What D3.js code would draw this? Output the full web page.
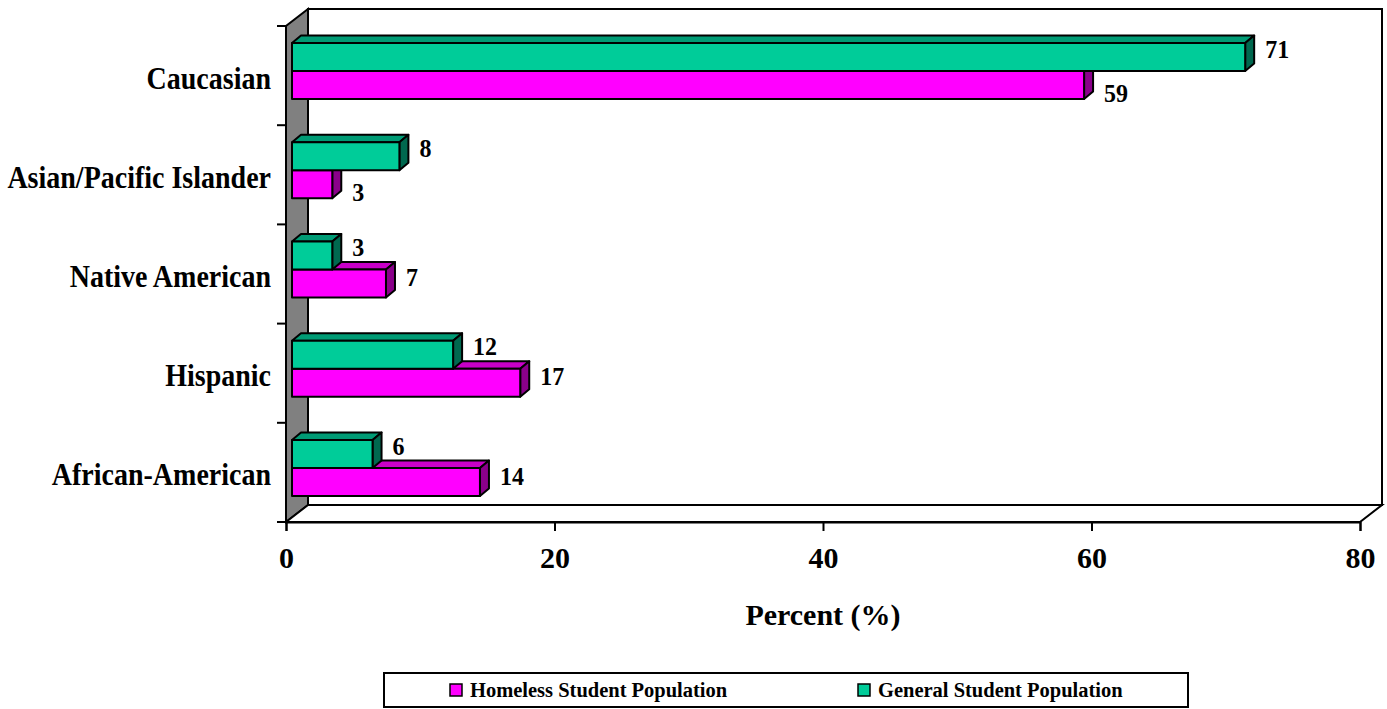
<!DOCTYPE html>
<html>
<head>
<meta charset="utf-8">
<script src="https://cdn.jsdelivr.net/npm/d3@7"></script>
<style>
  html, body { margin: 0; padding: 0; background: #fff; }
  svg { display: block; }
  text { font-family: "Liberation Serif", "Times New Roman", serif; font-weight: bold; fill: #000; }
</style>
</head>
<body>
<svg id="chart" width="1387" height="709"></svg>
<script>
// Ethnic breakdown, percent of each population
const categories = ["Caucasian", "Asian/Pacific Islander", "Native American", "Hispanic", "African-American"];
const seriesNames = ["Homeless Student Population", "General Student Population"];
const homeless = [59, 3, 7, 17, 14];
const general = [71, 8, 3, 12, 6];
const xTicks = [0, 20, 40, 60, 80];

const colors = {
  homeless: { front: "#FF00FF", top: "#C800C8", side: "#8A008A" },
  general:  { front: "#00CC99", top: "#009B75", side: "#00684F" }
};

const svg = d3.select("#chart");

// front plane of the 3-D box and its depth offset
const x = d3.scaleLinear().domain([0, 80]).range([286, 1360]);
const y = d3.scaleBand().domain(categories).range([26, 522]);
const depth = { dx: 22, dy: -17 };
const barShift = { dx: 6, dy: -4.5 };   // bars sit a little inside the box
const barDepth = { dx: 9, dy: -7.5 };
const barH = 28;

const x0 = x.range()[0], x1 = x.range()[1];
const yTop = y.range()[0], yBot = y.range()[1];

const frame = svg.append("g").attr("stroke", "#000").attr("stroke-width", 2).attr("fill", "none");

// back wall
frame.append("rect")
  .attr("x", x0 + depth.dx).attr("y", yTop + depth.dy)
  .attr("width", x1 - x0).attr("height", yBot - yTop)
  .attr("fill", "#fff");

// left side wall (grey)
frame.append("polygon")
  .attr("points", [
    [x0, yTop], [x0, yBot], [x0 + depth.dx, yBot + depth.dy], [x0 + depth.dx, yTop + depth.dy]
  ].map(p => p.join(",")).join(" "))
  .attr("fill", "#808080");

// floor
frame.append("polygon")
  .attr("points", [
    [x0, yBot], [x1, yBot], [x1 + depth.dx, yBot + depth.dy], [x0 + depth.dx, yBot + depth.dy]
  ].map(p => p.join(",")).join(" "))
  .attr("fill", "#fff");

// category tick marks at band boundaries
const bounds = categories.map(c => y(c)).concat([yBot]);
frame.selectAll("line.ytick").data(bounds).enter().append("line")
  .attr("x1", x0 - 9).attr("x2", x0).attr("y1", d => d).attr("y2", d => d);

// value axis along the front edge of the floor
const xAxis = d3.axisBottom(x).tickValues(xTicks).tickSize(9).tickPadding(16).tickFormat(d3.format("d"));
const gx = svg.append("g").attr("transform", `translate(0,${yBot})`).call(xAxis);
gx.select(".domain").attr("stroke", "#000").attr("stroke-width", 2);
gx.selectAll(".tick line").attr("stroke", "#000").attr("stroke-width", 2);
gx.selectAll(".tick text").attr("font-size", 30).attr("font-family", "'Liberation Serif', 'Times New Roman', serif").attr("font-weight", "bold").attr("fill", "#000");

// category labels (slightly tall lettering)
svg.selectAll("text.cat").data(categories).enter().append("text")
  .attr("class", "cat")
  .attr("transform", d => `translate(271,${y(d) + y.bandwidth() / 2 + 2.5}) scale(1,1.12)`)
  .attr("dominant-baseline", "central")
  .attr("text-anchor", "end")
  .attr("font-size", 28)
  .text(d => d);

// bars: general on top, homeless below; draw homeless first so general's faces overlap it
const rows = categories.map((c, i) => ({ cat: c, homeless: homeless[i], general: general[i] }));

function drawBar(g, val, yFront, col) {
  const bx0 = x(0) + barShift.dx;
  const bx1 = bx0 + (x(val) - x(0));
  const by0 = yFront, by1 = yFront + barH;
  const pts = arr => arr.map(p => p.join(",")).join(" ");
  g.append("polygon")
    .attr("points", pts([[bx0, by0], [bx1, by0], [bx1 + barDepth.dx, by0 + barDepth.dy], [bx0 + barDepth.dx, by0 + barDepth.dy]]))
    .attr("fill", col.top);
  g.append("polygon")
    .attr("points", pts([[bx1, by0], [bx1, by1], [bx1 + barDepth.dx, by1 + barDepth.dy], [bx1 + barDepth.dx, by0 + barDepth.dy]]))
    .attr("fill", col.side);
  g.append("rect")
    .attr("x", bx0).attr("y", by0).attr("width", bx1 - bx0).attr("height", barH)
    .attr("fill", col.front);
  return bx1;
}

const barsG = svg.append("g").attr("stroke", "#000").attr("stroke-width", 2).attr("stroke-linejoin", "round");
const labelsG = svg.append("g");

rows.forEach(r => {
  const mid = y(r.cat) + y.bandwidth() / 2 + barShift.dy;
  const yGen = mid - barH;
  const yHom = mid;
  const hEnd = drawBar(barsG, r.homeless, yHom, colors.homeless);
  const gEnd = drawBar(barsG, r.general, yGen, colors.general);

  labelsG.append("text")
    .attr("transform", `translate(${gEnd + 20},${yGen + barH / 2 - 8}) scale(1,1.06)`)
    .attr("dominant-baseline", "central")
    .attr("font-size", 24)
    .text(r.general);

  labelsG.append("text")
    .attr("transform", `translate(${hEnd + 20},${yHom + barH / 2 + (r.homeless > r.general ? -6 : 8)}) scale(1,1.06)`)
    .attr("dominant-baseline", "central")
    .attr("font-size", 24)
    .text(r.homeless);
});

// axis title
svg.append("text")
  .attr("x", (x0 + x1) / 2).attr("y", 625)
  .attr("text-anchor", "middle")
  .attr("font-size", 30)
  .text("Percent (%)");

// legend
const legend = svg.append("g");
legend.append("rect")
  .attr("x", 384).attr("y", 673).attr("width", 804).attr("height", 34)
  .attr("fill", "#fff").attr("stroke", "#000").attr("stroke-width", 2);
const legendItems = [
  { name: seriesNames[0], col: colors.homeless.front, x: 450 },
  { name: seriesNames[1], col: colors.general.front, x: 858 }
];
legendItems.forEach(it => {
  legend.append("rect")
    .attr("x", it.x).attr("y", 684).attr("width", 12).attr("height", 12)
    .attr("fill", it.col).attr("stroke", "#000").attr("stroke-width", 1.5);
  legend.append("text")
    .attr("transform", `translate(${it.x + 20},697) scale(1,1.05)`)
    .attr("font-size", 20.5)
    .text(it.name);
});
</script>
</body>
</html>
